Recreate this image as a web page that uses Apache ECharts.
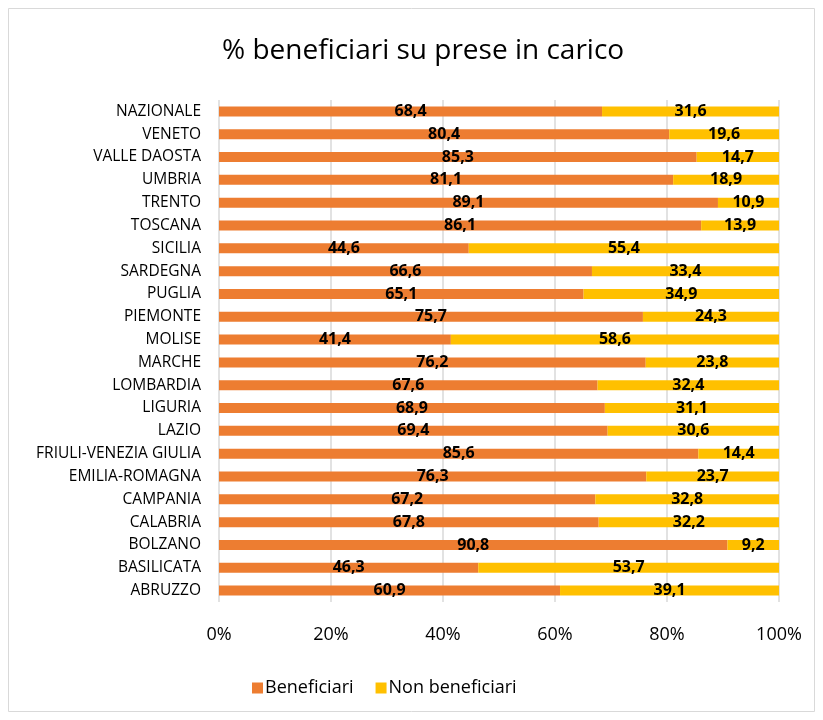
<!DOCTYPE html>
<html>
<head>
<meta charset="utf-8">
<script src="https://cdn.jsdelivr.net/npm/echarts@6/dist/echarts.min.js"></script>
<style>
  html, body { margin: 0; padding: 0; background: #fff; }
</style>
</head>
<body>
<div id="main" style="width: 823px;height:720px;"></div>
<script>
// regioni, dall'alto verso il basso
var regioni = ["NAZIONALE", "VENETO", "VALLE DAOSTA", "UMBRIA", "TRENTO", "TOSCANA",
  "SICILIA", "SARDEGNA", "PUGLIA", "PIEMONTE", "MOLISE", "MARCHE", "LOMBARDIA",
  "LIGURIA", "LAZIO", "FRIULI-VENEZIA GIULIA", "EMILIA-ROMAGNA", "CAMPANIA",
  "CALABRIA", "BOLZANO", "BASILICATA", "ABRUZZO"];
var beneficiari = [68.4, 80.4, 85.3, 81.1, 89.1, 86.1, 44.6, 66.6, 65.1, 75.7, 41.4,
  76.2, 67.6, 68.9, 69.4, 85.6, 76.3, 67.2, 67.8, 90.8, 46.3, 60.9];
var nonBeneficiari = [31.6, 19.6, 14.7, 18.9, 10.9, 13.9, 55.4, 33.4, 34.9, 24.3, 58.6,
  23.8, 32.4, 31.1, 30.6, 14.4, 23.7, 32.8, 32.2, 9.2, 53.7, 39.1];
var tickPerc = [0, 20, 40, 60, 80, 100];

var font = "'Open Sans', 'Noto Sans', sans-serif";

var myChart = echarts.init(document.getElementById("main"));

function etichetta(p) {
  return String(p.value.toFixed(1)).replace(".", ",");
}

var option = {
  animation: false,
  backgroundColor: "#fff",
  color: ["#ED7D31", "#FFC000"],
  title: {
    text: "% beneficiari su prese in carico",
    left: 217,
    top: 32,
    textStyle: { fontFamily: font, fontSize: 28, fontWeight: "normal", color: "#000" }
  },
  graphic: [{
    type: "rect",
    shape: { x: 8.5, y: 8.5, width: 806, height: 703 },
    style: { fill: "none", stroke: "#d9d9d9", lineWidth: 1 },
    silent: true
  }],
  legend: {
    bottom: 18,
    left: 247,
    itemWidth: 11,
    itemHeight: 11,
    itemGap: 22,
    icon: "rect",
    textStyle: { fontFamily: font, fontSize: 18, color: "#000", padding: [0, 0, 0, -3] },
    data: ["Beneficiari", "Non beneficiari"]
  },
  grid: {
    left: 219,
    right: 44,
    top: 100,
    bottom: 118
  },
  xAxis: {
    type: "value",
    min: tickPerc[0],
    max: tickPerc[tickPerc.length - 1],
    interval: 20,
    axisLine: { show: false },
    axisTick: { show: false },
    splitLine: { lineStyle: { color: "#d9d9d9", width: 1.5 } },
    axisLabel: {
      fontFamily: font,
      fontSize: 18,
      color: "#000",
      margin: 24,
      formatter: function (v) { return v + "%"; }
    }
  },
  yAxis: {
    type: "category",
    inverse: true,
    data: regioni,
    axisLine: { show: false },
    axisTick: { show: false },
    axisLabel: { fontFamily: font, fontSize: 15.5, color: "#000", margin: 18 }
  },
  series: [
    {
      name: "Beneficiari",
      type: "bar",
      stack: "tot",
      barWidth: 10,
      data: beneficiari,
      label: {
        show: true,
        position: "inside",
        fontFamily: font,
        fontSize: 16,
        fontWeight: "bold",
        color: "#000",
        formatter: etichetta
      }
    },
    {
      name: "Non beneficiari",
      type: "bar",
      stack: "tot",
      barWidth: 10,
      data: nonBeneficiari,
      label: {
        show: true,
        position: "inside",
        fontFamily: font,
        fontSize: 16,
        fontWeight: "bold",
        color: "#000",
        formatter: etichetta
      }
    }
  ]
};

myChart.setOption(option);
</script>
</body>
</html>
